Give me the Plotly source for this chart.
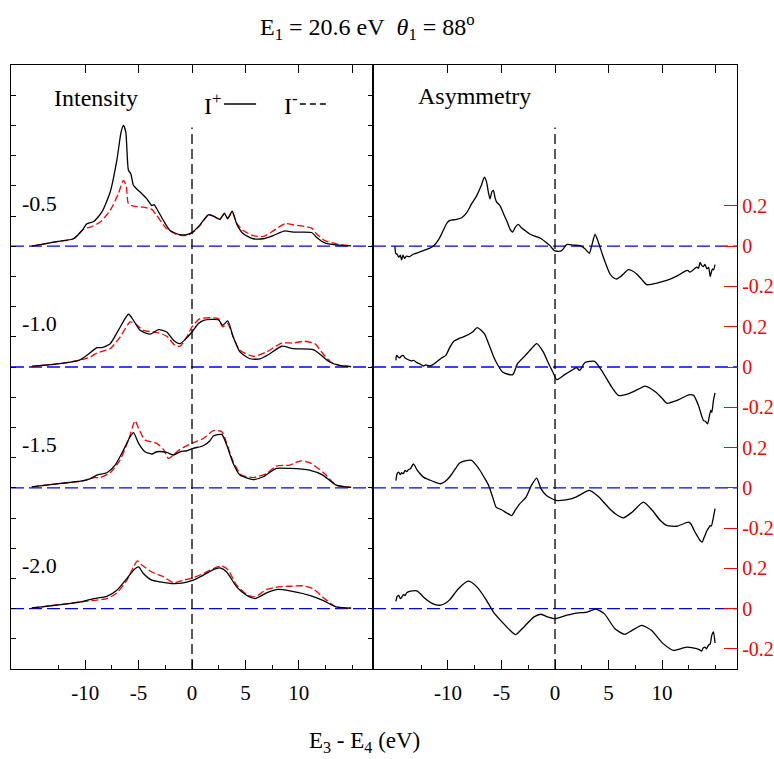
import plotly.graph_objects as go

FONT = "Liberation Serif"

# Row settings: kinetic-energy label of each row and vertical spacing between rows
ROW_LABELS = ["-0.5", "-1.0", "-1.5", "-2.0"]
ROW_STEP = 0.6

# Intensity curves [E3-E4 (eV), intensity (arb.)], I+ (solid) and I- (dashed)
IPLUS_05 = [[-15.0, 0.0], [-12.65, 0.023], [-11.1, 0.037], [-10.3, 0.078], [-9.85, 0.111], [-9.2, 0.123],
            [-8.45, 0.169], [-7.66, 0.269], [-7.04, 0.426], [-6.64, 0.567], [-6.42, 0.600], [-6.2, 0.567],
            [-5.95, 0.377], [-5.73, 0.36], [-5.48, 0.302], [-4.86, 0.269], [-4.24, 0.236], [-3.77, 0.202],
            [-3.55, 0.206], [-3.3, 0.186], [-2.68, 0.128], [-2.06, 0.078], [-1.12, 0.057], [-0.5, 0.058],
            [0.06, 0.070], [0.75, 0.106], [1.53, 0.156], [2.0, 0.149], [2.62, 0.133], [3.03, 0.164],
            [3.34, 0.136], [3.77, 0.174], [4.18, 0.111], [4.8, 0.062], [5.74, 0.037], [6.67, 0.037],
            [7.6, 0.053], [8.7, 0.076], [9.47, 0.070], [11.2, 0.068], [11.65, 0.045], [12.43, 0.017],
            [13.5, 0.007], [14.9, 0.002]]
IMINUS_05 = [[-15.0, 0.0], [-12.65, 0.023], [-11.1, 0.037], [-10.1, 0.087], [-9.5, 0.095], [-8.6, 0.12],
             [-7.66, 0.178], [-6.9, 0.26], [-6.42, 0.327], [-6.17, 0.302], [-5.95, 0.211], [-5.48, 0.199],
             [-4.55, 0.194], [-3.77, 0.183], [-3.3, 0.152], [-2.37, 0.087], [-1.43, 0.058], [-0.5, 0.053],
             [0.06, 0.068], [0.75, 0.104], [1.53, 0.156], [2.0, 0.150], [2.62, 0.136], [3.03, 0.160],
             [3.34, 0.140], [3.77, 0.168], [4.18, 0.115], [4.8, 0.078], [5.74, 0.052], [6.67, 0.048],
             [7.6, 0.076], [8.7, 0.112], [9.47, 0.106], [11.2, 0.09], [11.65, 0.062], [12.43, 0.028],
             [13.5, 0.012], [14.9, 0.002]]

IPLUS_10 = [[-15.0, 0.003], [-12.65, 0.015], [-10.6, 0.033], [-9.85, 0.058], [-8.9, 0.096], [-8.45, 0.096],
            [-7.66, 0.116], [-6.9, 0.182], [-5.95, 0.262], [-5.48, 0.232], [-4.86, 0.182], [-3.9, 0.163],
            [-3.14, 0.186], [-2.37, 0.174], [-1.74, 0.133], [-1.12, 0.116], [-0.65, 0.136], [0.0, 0.174],
            [0.6, 0.216], [1.1, 0.232], [2.46, 0.235], [2.87, 0.207], [3.34, 0.229], [3.86, 0.149],
            [4.49, 0.075], [5.42, 0.041], [6.36, 0.040], [7.3, 0.066], [8.4, 0.103], [9.47, 0.091],
            [11.36, 0.086], [12.1, 0.058], [12.9, 0.025], [13.8, 0.008], [14.9, 0.002]]
IMINUS_10 = [[-15.0, 0.003], [-12.65, 0.015], [-10.6, 0.033], [-9.5, 0.05], [-8.9, 0.07], [-7.66, 0.091],
             [-6.73, 0.149], [-5.79, 0.224], [-5.33, 0.216], [-4.55, 0.182], [-3.6, 0.174], [-3.14, 0.169],
             [-2.37, 0.153], [-1.6, 0.108], [-1.12, 0.103], [-0.5, 0.149], [0.0, 0.199], [0.75, 0.240],
             [2.46, 0.240], [2.87, 0.199], [3.34, 0.216], [3.86, 0.149], [4.49, 0.083], [5.74, 0.053],
             [6.98, 0.075], [8.4, 0.119], [9.47, 0.119], [10.55, 0.128], [11.5, 0.116], [12.25, 0.066],
             [13.0, 0.025], [13.8, 0.008], [14.9, 0.002]]

IPLUS_15 = [[-15.0, 0.005], [-12.3, 0.022], [-10.4, 0.033], [-9.5, 0.046], [-8.9, 0.063], [-7.97, 0.075],
            [-7.2, 0.113], [-6.42, 0.187], [-5.79, 0.254], [-5.48, 0.274], [-5.0, 0.221], [-4.4, 0.179],
            [-3.77, 0.168], [-3.3, 0.179], [-2.37, 0.176], [-1.74, 0.163], [-1.12, 0.179], [-0.5, 0.184],
            [0.12, 0.196], [1.06, 0.209], [1.68, 0.234], [2.0, 0.257], [2.78, 0.265], [3.25, 0.212],
            [3.86, 0.121], [4.49, 0.063], [5.74, 0.041], [6.67, 0.055], [7.9, 0.096], [9.16, 0.096],
            [11.0, 0.088], [12.25, 0.063], [13.5, 0.013], [14.9, 0.002]]
IMINUS_15 = [[-15.0, 0.005], [-12.3, 0.022], [-10.4, 0.033], [-9.2, 0.051], [-8.6, 0.051], [-7.66, 0.075],
             [-6.73, 0.138], [-5.95, 0.237], [-5.33, 0.333], [-5.0, 0.295], [-4.4, 0.237], [-3.3, 0.221],
             [-2.68, 0.191], [-2.22, 0.146], [-1.74, 0.163], [-1.12, 0.191], [0.0, 0.221], [1.06, 0.245],
             [2.0, 0.284], [2.78, 0.279], [3.25, 0.221], [3.86, 0.129], [4.65, 0.063], [5.74, 0.051],
             [6.98, 0.071], [7.9, 0.108], [9.16, 0.113], [10.2, 0.134], [11.16, 0.121], [12.4, 0.071],
             [13.5, 0.013], [14.9, 0.002]]

IPLUS_20 = [[-15.0, 0.003], [-10.4, 0.033], [-9.2, 0.050], [-7.97, 0.061], [-7.04, 0.091], [-6.1, 0.149],
            [-5.48, 0.191], [-5.0, 0.207], [-4.55, 0.174], [-3.77, 0.141], [-2.99, 0.133], [-1.74, 0.124],
            [-0.8, 0.128], [0.12, 0.141], [1.06, 0.166], [2.0, 0.194], [2.62, 0.202], [3.25, 0.182],
            [4.18, 0.108], [5.11, 0.066], [5.9, 0.050], [6.98, 0.078], [8.07, 0.095], [9.16, 0.088],
            [11.0, 0.066], [12.25, 0.041], [13.5, 0.008], [14.9, 0.002]]
IMINUS_20 = [[-15.0, 0.003], [-10.4, 0.033], [-9.2, 0.041], [-7.97, 0.050], [-7.04, 0.078], [-6.1, 0.141],
             [-5.48, 0.207], [-5.1, 0.237], [-4.7, 0.216], [-3.77, 0.182], [-2.68, 0.158], [-1.74, 0.128],
             [-0.8, 0.141], [0.12, 0.154], [1.06, 0.174], [2.0, 0.199], [2.78, 0.211], [3.4, 0.191],
             [4.18, 0.116], [5.11, 0.071], [5.9, 0.058], [6.98, 0.095], [8.07, 0.108], [9.16, 0.111],
             [10.4, 0.113], [11.3, 0.1], [12.4, 0.05], [13.5, 0.008], [14.9, 0.002]]

# Asymmetry curves [E3-E4 (eV), A]
ASYM_05 = [[-14.95, 0.0], [-14.88, -0.035], [-14.75, -0.04], [-14.6, -0.055], [-14.45, -0.045],
           [-14.33, -0.068], [-14.2, -0.045], [-14.05, -0.06], [-13.9, -0.05], [-13.6, -0.052],
           [-13.24, -0.04], [-12.8, -0.032], [-12.3, -0.022], [-11.8, -0.012], [-11.37, 0.0], [-10.9, 0.03],
           [-10.44, 0.078], [-10.1, 0.115], [-9.81, 0.128], [-9.2, 0.133], [-8.72, 0.141], [-8.26, 0.165],
           [-7.8, 0.21], [-7.32, 0.25], [-6.9, 0.30], [-6.6, 0.343], [-6.4, 0.32], [-6.23, 0.27],
           [-6.07, 0.235], [-5.9, 0.27], [-5.75, 0.277], [-5.6, 0.24], [-5.45, 0.219], [-5.14, 0.202],
           [-4.8, 0.16], [-4.52, 0.128], [-4.2, 0.085], [-3.96, 0.07], [-3.7, 0.095], [-3.43, 0.108],
           [-3.1, 0.09], [-2.8, 0.078], [-2.4, 0.062], [-2.02, 0.053], [-1.6, 0.045], [-1.25, 0.036],
           [-0.85, 0.02], [-0.47, 0.003], [-0.1, -0.02], [0.16, -0.025], [0.62, -0.022], [1.09, 0.008],
           [1.7, 0.005], [2.34, 0.003], [2.8, -0.013], [3.21, -0.035], [3.43, 0.003], [3.74, 0.058],
           [4.05, 0.02], [4.52, -0.055], [5.14, -0.138], [5.5, -0.158], [5.76, -0.163], [6.1, -0.152],
           [6.39, -0.138], [6.85, -0.116], [7.2, -0.122], [7.63, -0.138], [8.1, -0.165], [8.57, -0.191],
           [9.19, -0.187], [10.0, -0.176], [10.75, -0.163], [11.5, -0.145], [12.15, -0.124], [12.4, -0.12],
           [12.6, -0.129], [12.9, -0.118], [13.24, -0.104], [13.4, -0.11], [13.55, -0.08], [13.7, -0.095],
           [13.86, -0.101], [14.0, -0.09], [14.2, -0.113], [14.35, -0.105], [14.5, -0.151], [14.6, -0.13],
           [14.7, -0.113], [14.8, -0.118], [14.95, -0.091]]
ASYM_10 = [[-14.86, 0.033], [-14.8, 0.058], [-14.65, 0.05], [-14.5, 0.046], [-14.35, 0.055],
           [-14.18, 0.058], [-14.0, 0.045], [-13.7, 0.036], [-13.4, 0.03], [-13.2, 0.033], [-12.9, 0.022],
           [-12.6, 0.015], [-12.3, 0.005], [-12.1, 0.01], [-11.7, 0.005], [-11.4, 0.012], [-11.0, 0.028],
           [-10.6, 0.045], [-10.2, 0.058], [-9.8, 0.1], [-9.45, 0.128], [-8.9, 0.143], [-8.4, 0.153],
           [-7.7, 0.174], [-7.26, 0.196], [-6.6, 0.166], [-6.2, 0.116], [-5.8, 0.06], [-5.5, 0.025],
           [-4.9, -0.025], [-4.4, -0.036], [-3.95, -0.038], [-3.7, -0.01], [-3.5, 0.017], [-2.85, 0.053],
           [-2.2, 0.091], [-1.71, 0.116], [-1.1, 0.075], [-0.6, 0.017], [-0.16, -0.03], [0.16, -0.063],
           [0.9, -0.038], [1.56, -0.017], [2.0, -0.003], [2.3, -0.017], [2.8, 0.022], [3.7, 0.028],
           [4.35, -0.017], [5.3, -0.1], [5.92, -0.141], [6.85, -0.133], [7.8, -0.11], [8.41, -0.095],
           [9.4, -0.124], [10.0, -0.155], [10.44, -0.18], [11.4, -0.166], [12.5, -0.138], [12.95, -0.141],
           [13.4, -0.191], [13.86, -0.265], [14.05, -0.27], [14.25, -0.282], [14.4, -0.25], [14.55, -0.215],
           [14.65, -0.225], [14.8, -0.166], [14.95, -0.129]]
ASYM_15 = [[-14.86, 0.036], [-14.75, 0.07], [-14.6, 0.078], [-14.45, 0.065], [-14.33, 0.075],
           [-14.18, 0.07], [-14.0, 0.086], [-13.85, 0.08], [-13.7, 0.09], [-13.5, 0.095], [-13.24, 0.119],
           [-13.1, 0.11], [-12.9, 0.09], [-12.6, 0.07], [-12.3, 0.053], [-12.0, 0.045], [-11.8, 0.041],
           [-11.3, 0.03], [-10.7, 0.02], [-10.3, 0.03], [-9.8, 0.056], [-9.3, 0.095], [-8.88, 0.124],
           [-8.3, 0.135], [-7.79, 0.136], [-7.4, 0.115], [-7.0, 0.086], [-6.6, 0.05], [-6.2, 0.012],
           [-5.8, -0.05], [-5.5, -0.096], [-5.0, -0.109], [-4.5, -0.125], [-4.05, -0.138], [-3.7, -0.11],
           [-3.3, -0.08], [-2.7, -0.046], [-2.2, 0.012], [-1.71, 0.048], [-1.3, -0.005], [-0.8, -0.038],
           [0.1, -0.063], [1.0, -0.06], [1.95, -0.046], [2.5, -0.03], [3.2, -0.013], [4.1, -0.046],
           [5.1, -0.104], [5.8, -0.135], [6.39, -0.149], [7.2, -0.121], [8.26, -0.071], [9.1, -0.113],
           [9.8, -0.16], [10.44, -0.187], [11.37, -0.191], [12.46, -0.171], [12.7, -0.18], [13.0, -0.212],
           [13.3, -0.24], [13.55, -0.262], [13.75, -0.27], [13.9, -0.25], [14.1, -0.225], [14.2, -0.212],
           [14.35, -0.2], [14.5, -0.188], [14.6, -0.19], [14.8, -0.146], [14.95, -0.104]]
ASYM_20 = [[-14.86, 0.036], [-14.75, 0.06], [-14.6, 0.066], [-14.45, 0.05], [-14.33, 0.055],
           [-14.15, 0.07], [-14.0, 0.065], [-13.86, 0.078], [-13.6, 0.085], [-13.3, 0.088], [-12.9, 0.088],
           [-12.6, 0.075], [-12.3, 0.058], [-11.7, 0.033], [-11.2, 0.02], [-10.7, 0.017], [-10.2, 0.028],
           [-9.8, 0.046], [-9.0, 0.1], [-8.1, 0.136], [-7.3, 0.108], [-6.5, 0.05], [-5.75, -0.017],
           [-4.95, -0.066], [-4.2, -0.108], [-3.68, -0.129], [-2.9, -0.091], [-1.96, -0.041], [-1.3, -0.028],
           [-0.7, -0.041], [0.0, -0.05], [1.1, -0.033], [2.0, -0.022], [3.0, -0.017], [3.8, -0.003],
           [4.6, -0.025], [5.6, -0.1], [6.5, -0.128], [7.2, -0.108], [8.1, -0.083], [9.0, -0.108],
           [10.1, -0.174], [11.06, -0.207], [12.3, -0.191], [13.24, -0.199], [13.5, -0.205], [13.7, -0.211],
           [13.85, -0.195], [14.0, -0.191], [14.15, -0.2], [14.33, -0.182], [14.5, -0.175], [14.64, -0.133],
           [14.8, -0.116], [14.95, -0.171]]

IPLUS = [IPLUS_05, IPLUS_10, IPLUS_15, IPLUS_20]
IMINUS = [IMINUS_05, IMINUS_10, IMINUS_15, IMINUS_20]
ASYM = [ASYM_05, ASYM_10, ASYM_15, ASYM_20]

# Asymmetry tick labels shown for every row
ASYM_TICKS = [0.2, 0.0, -0.2]
ASYM_TICKTEXT = ["0.2", "0", "-0.2"]

X_MAJOR = [-10, -5, 0, 5, 10]
X_MINOR = [-12.5, -7.5, -2.5, 2.5, 7.5, 12.5, 15]
X_TOP = [-10, -5, 0, 5, 10, 15]

Y_LO, Y_HI = -2.1, 0.9
ZERO_LINE_TOP = 0.59

fig = go.Figure()


def add_curve(points, offset, xa, ya, color, dash):
    fig.add_trace(go.Scatter(
        x=[p[0] for p in points], y=[offset + p[1] for p in points],
        mode="lines", xaxis=xa, yaxis=ya, showlegend=False, hoverinfo="skip",
        line=dict(color=color, width=1.3, dash=dash, shape="spline", smoothing=0.6)))


for i in range(len(ROW_LABELS)):
    off = -ROW_STEP * i
    add_curve(IMINUS[i], off, "x", "y", "#ff0000", "7px,3px")
    add_curve(IPLUS[i], off, "x", "y", "black", "solid")
    add_curve(ASYM[i], off, "x2", "y2", "black", "solid")

# placeholder traces so that the top tick axes get drawn
fig.add_trace(go.Scatter(x=[None], y=[None], xaxis="x3", yaxis="y", showlegend=False))
fig.add_trace(go.Scatter(x=[None], y=[None], xaxis="x4", yaxis="y2", showlegend=False))

shapes = []
for i in range(len(ROW_LABELS)):
    off = -ROW_STEP * i
    for xr in ("x domain", "x2 domain"):
        shapes.append(dict(type="line", xref=xr, yref="y" if xr.startswith("x ") else "y2",
                           x0=0, x1=1, y0=off, y1=off, layer="below",
                           line=dict(color="#0000ff", width=1.3, dash="13px,5px")))
for xr, yr in (("x", "y"), ("x2", "y2")):
    shapes.append(dict(type="line", xref=xr, yref=yr, x0=0, x1=0, y0=Y_LO, y1=ZERO_LINE_TOP,
                       line=dict(color="black", width=1.3, dash="10px,5px")))

# key line samples next to I+ and I-
shapes.append(dict(type="line", xref="x", yref="paper", x0=3.0, x1=6.0, y0=0.9354, y1=0.9354,
                   line=dict(color="black", width=1.3)))
shapes.append(dict(type="line", xref="x", yref="paper", x0=10.1, x1=12.9, y0=0.9354, y1=0.9354,
                   line=dict(color="black", width=1.3, dash="6px,4px")))

annotations = []
row_font = dict(family=FONT, size=22, color="black")
big_font = dict(family=FONT, size=24, color="black")
for i, lab in enumerate(ROW_LABELS):
    annotations.append(dict(xref="x", yref="y", x=-16.1, y=-ROW_STEP * i + 0.214, text=lab,
                            showarrow=False, xanchor="left", yanchor="middle", font=row_font))
annotations += [
    dict(xref="paper", yref="paper", x=0.0565, y=0.9454, text="Intensity", showarrow=False,
         xanchor="left", yanchor="middle", font=big_font),
    dict(xref="paper", yref="paper", x=0.2630, y=0.935, text="I<sup>+</sup>", showarrow=False,
         xanchor="left", yanchor="middle", font=big_font),
    dict(xref="paper", yref="paper", x=0.3735, y=0.935, text="I<sup>-</sup>", showarrow=False,
         xanchor="left", yanchor="middle", font=big_font),
    dict(xref="paper", yref="paper", x=0.5580, y=0.9487, text="Asymmetry", showarrow=False,
         xanchor="left", yanchor="middle", font=big_font),
    dict(xref="paper", yref="paper", x=0.4904, y=1.0630,
         text="E<sub>1</sub> = 20.6 eV\u00a0\u00a0<i>θ</i><sub>1</sub> = 88<sup>o</sup>",
         showarrow=False, xanchor="center", yanchor="middle", font=big_font),
    dict(xref="paper", yref="paper", x=0.4876, y=-0.1209, text="E<sub>3</sub> - E<sub>4</sub> (eV)",
         showarrow=False, xanchor="center", yanchor="middle", font=dict(family=FONT, size=23, color="black")),
]

red_vals, red_text = [], []
for i in range(len(ROW_LABELS)):
    for v, t in zip(ASYM_TICKS, ASYM_TICKTEXT):
        red_vals.append(round(-ROW_STEP * i + v, 3))
        red_text.append(t)

SPLIT = 362 / 726
tickfont = dict(family=FONT, size=21, color="black")


def bottom_axis(domain, rng, anchor):
    return dict(domain=domain, range=rng, anchor=anchor, showline=True, linecolor="black", linewidth=1.3,
                ticks="inside", tickvals=X_MAJOR, ticktext=[str(v) for v in X_MAJOR], ticklen=9,
                tickcolor="black", tickwidth=1.2, tickfont=tickfont, ticklabelstandoff=5,
                minor=dict(tickmode="array", tickvals=X_MINOR, ticks="inside", ticklen=4,
                           tickcolor="black", tickwidth=1.2, showgrid=False),
                showgrid=False, zeroline=False, mirror=False, automargin=False, fixedrange=True)


def top_axis(over, rng, anchor):
    return dict(overlaying=over, side="top", anchor=anchor, range=rng, showline=True, linecolor="black",
                linewidth=1.3, ticks="inside", tickvals=X_TOP, ticklen=8, tickcolor="black", tickwidth=1.2,
                showticklabels=False, showgrid=False, zeroline=False, automargin=False)


fig.update_layout(
    template="none",
    font=dict(family=FONT, color="black"),
    width=774, height=759,
    margin=dict(l=11, r=37, t=65, b=90, pad=0),
    paper_bgcolor="white", plot_bgcolor="white",
    showlegend=False,
    xaxis=bottom_axis([0, SPLIT], [-16.95, 16.95], "y"),
    xaxis2=bottom_axis([SPLIT, 1], [-17.0, 17.0], "y2"),
    xaxis3=top_axis("x", [-16.95, 16.95], "y"),
    xaxis4=top_axis("x2", [-17.0, 17.0], "y2"),
    yaxis=dict(domain=[0, 1], range=[Y_LO, Y_HI], anchor="x", showline=True, linecolor="black",
               linewidth=1.3, mirror="ticks", ticks="inside", ticklen=5, tickcolor="black", tickwidth=1.2,
               tickvals=[round(Y_LO + 0.15 * k, 3) for k in range(21)], showticklabels=False,
               showgrid=False, zeroline=False, automargin=False),
    yaxis2=dict(domain=[0, 1], range=[Y_LO, Y_HI], anchor="x2", side="right", showline=True,
                linecolor="black", linewidth=1.3, mirror=True, ticks="inside", ticklen=13,
                tickcolor="#ff0000", tickwidth=1.2, tickvals=red_vals, ticktext=red_text,
                tickfont=dict(family=FONT, size=20, color="#ff0000"),
                showgrid=False, zeroline=False, automargin=False),
    shapes=shapes,
    annotations=annotations,
)

fig.write_html("out.html")
